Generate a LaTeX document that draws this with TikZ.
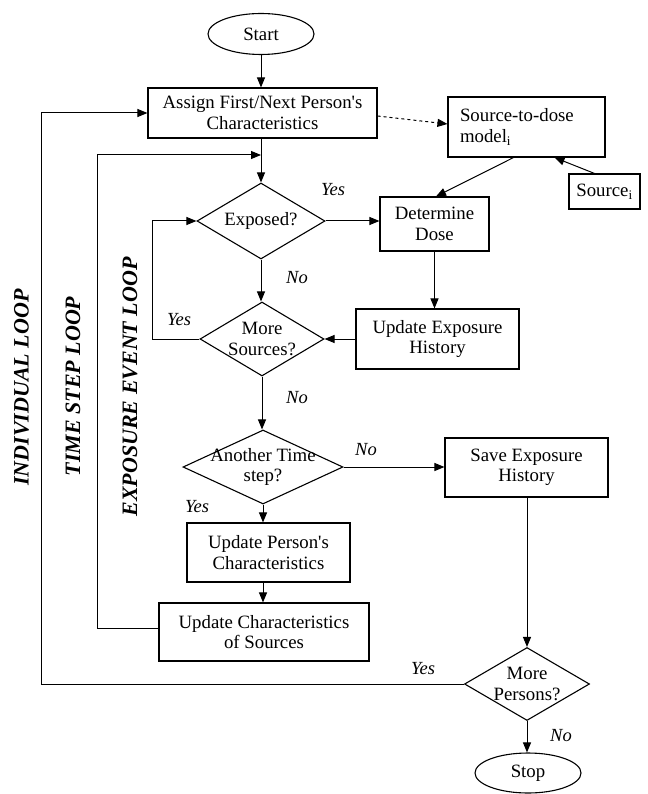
\documentclass[tikz,border=0pt]{standalone}
\usepackage{fontspec}
\setmainfont{Liberation Serif}[Ligatures=TeXOff]
\usetikzlibrary{shapes.geometric,arrows.meta,calc}
\begin{document}
\begin{tikzpicture}[x=1pt,y=-1pt,
  every node/.style={font=\fontsize{18.8}{20.5}\selectfont},
  box/.style={draw,line width=1.1pt,rectangle,inner sep=0pt,align=center},
  term/.style={draw,line width=1.1pt,ellipse,inner sep=0pt,minimum width=106pt,minimum height=41pt},
  decision/.style={draw,line width=1.1pt,diamond,inner sep=0pt},
  arr/.style={line width=1pt,-{Triangle[length=10pt,width=8pt]}},
  lab/.style={font=\itshape\fontsize{18.5}{20.5}\selectfont},
  looplab/.style={font=\bfseries\itshape\fontsize{22}{24}\selectfont,rotate=90,anchor=base,inner sep=0pt}
]
\useasboundingbox (0,0) rectangle (647,794);

% nodes
\node[term] (start) at (261,34) {Start};
\node[box,minimum width=229pt,minimum height=50pt] (assign) at (262.5,113) {Assign First/Next Person's\\Characteristics};
\node[box,minimum width=157pt,minimum height=60pt,align=left,text width=133pt,inner xsep=12pt] (model) at (526.5,127) {Source-to-dose\\model\textsubscript{i}};
\node[box,minimum width=71pt,minimum height=35pt] (srci) at (604.5,191.5) {Source\textsubscript{i}};
\node[decision,minimum width=128pt,minimum height=76pt,label={center:Exposed?}] (exposed) at (261,221) {};
\node[box,minimum width=109pt,minimum height=54pt] (determine) at (434.5,224) {Determine\\Dose};
\node[box,minimum width=163pt,minimum height=60pt] (updexp) at (437.5,339) {Update Exposure\\History};
\node[decision,minimum width=124pt,minimum height=74pt,label={[align=center]center:More\\Sources?}] (moresrc) at (262,339) {};
\node[decision,minimum width=160pt,minimum height=74pt,label={[align=center]center:Another Time\\step?}] (another) at (263,467) {};
\node[box,minimum width=163pt,minimum height=59pt] (save) at (526.5,467.5) {Save Exposure\\History};
\node[box,minimum width=163pt,minimum height=59pt] (updperson) at (268.5,552.5) {Update Person's\\Characteristics};
\node[box,minimum width=210pt,minimum height=58pt] (updsrc) at (264,632) {Update Characteristics\\of Sources};
\node[decision,minimum width=125pt,minimum height=73pt,label={[align=center]center:More\\Persons?}] (morepers) at (527,684) {};
\node[term,minimum height=40pt] (stop) at (528,773) {Stop};

% loop coordinates
\coordinate (il) at (41,0);
\coordinate (tsl) at (97,155);
\coordinate (el) at (152,0);

% connectors
\draw[arr] (start) -- (start |- assign.north);
\draw[arr,dashed] ([yshift=-3pt]assign.east) -- ([yshift=3pt]model.west);
\draw[arr] ([xshift=-13pt]model.south) -- ([xshift=1.5pt]determine.north);
\draw[arr] ([xshift=-10pt]srci.north) -- ([xshift=28pt]model.south);
\draw[arr] (exposed.north |- assign.south) -- (exposed.north);
\draw[arr] ([yshift=4pt]updsrc.west) -| (tsl) -- (tsl -| exposed.north);
\draw[arr] (morepers.west) -- (morepers.west -| il) |- (assign.west);
\draw[arr] (exposed.east) -- (exposed.east -| determine.west);
\draw[arr] (determine.south) -- (determine.south |- updexp.north);
\draw[arr] (updexp.west) -- (moresrc.east);
\draw[arr] (exposed.south) -- (exposed.south |- moresrc.north);
\draw[arr] (moresrc.west) -- (moresrc.west -| el) |- (exposed.west);
\draw[arr] (moresrc.south) -- (moresrc.south |- another.north);
\draw[arr] (another.east) -- (another.east -| save.west);
\draw[arr] (another.south) -- (another.south |- updperson.north);
\draw[arr] (another.south |- updperson.south) -- (another.south |- updsrc.north);
\draw[arr] (morepers.north |- save.south) -- (morepers.north);
\draw[arr] (morepers.south) -- (morepers.south |- stop.north);

% branch labels
\node[lab] (y1) at (333,190) {Yes};
\node[lab] (n1) at (297,278) {No};
\node[lab] (y2) at (179,320) {Yes};
\node[lab] (n2) at (297,398) {No};
\node[lab] (n3) at (366,450) {No};
\node[lab] (y3) at (197,507) {Yes};
\node[lab] (y4) at (423,669) {Yes};
\node[lab] (n4) at (561,736) {No};

% loop labels
\node[looplab] (lind) at (28.5,387.5) {INDIVIDUAL LOOP};
\node[looplab] (ltime) at (80,386.5) {TIME STEP LOOP};
\node[looplab] (lexp) at (137,387) {EXPOSURE EVENT LOOP};
\end{tikzpicture}
\end{document}
